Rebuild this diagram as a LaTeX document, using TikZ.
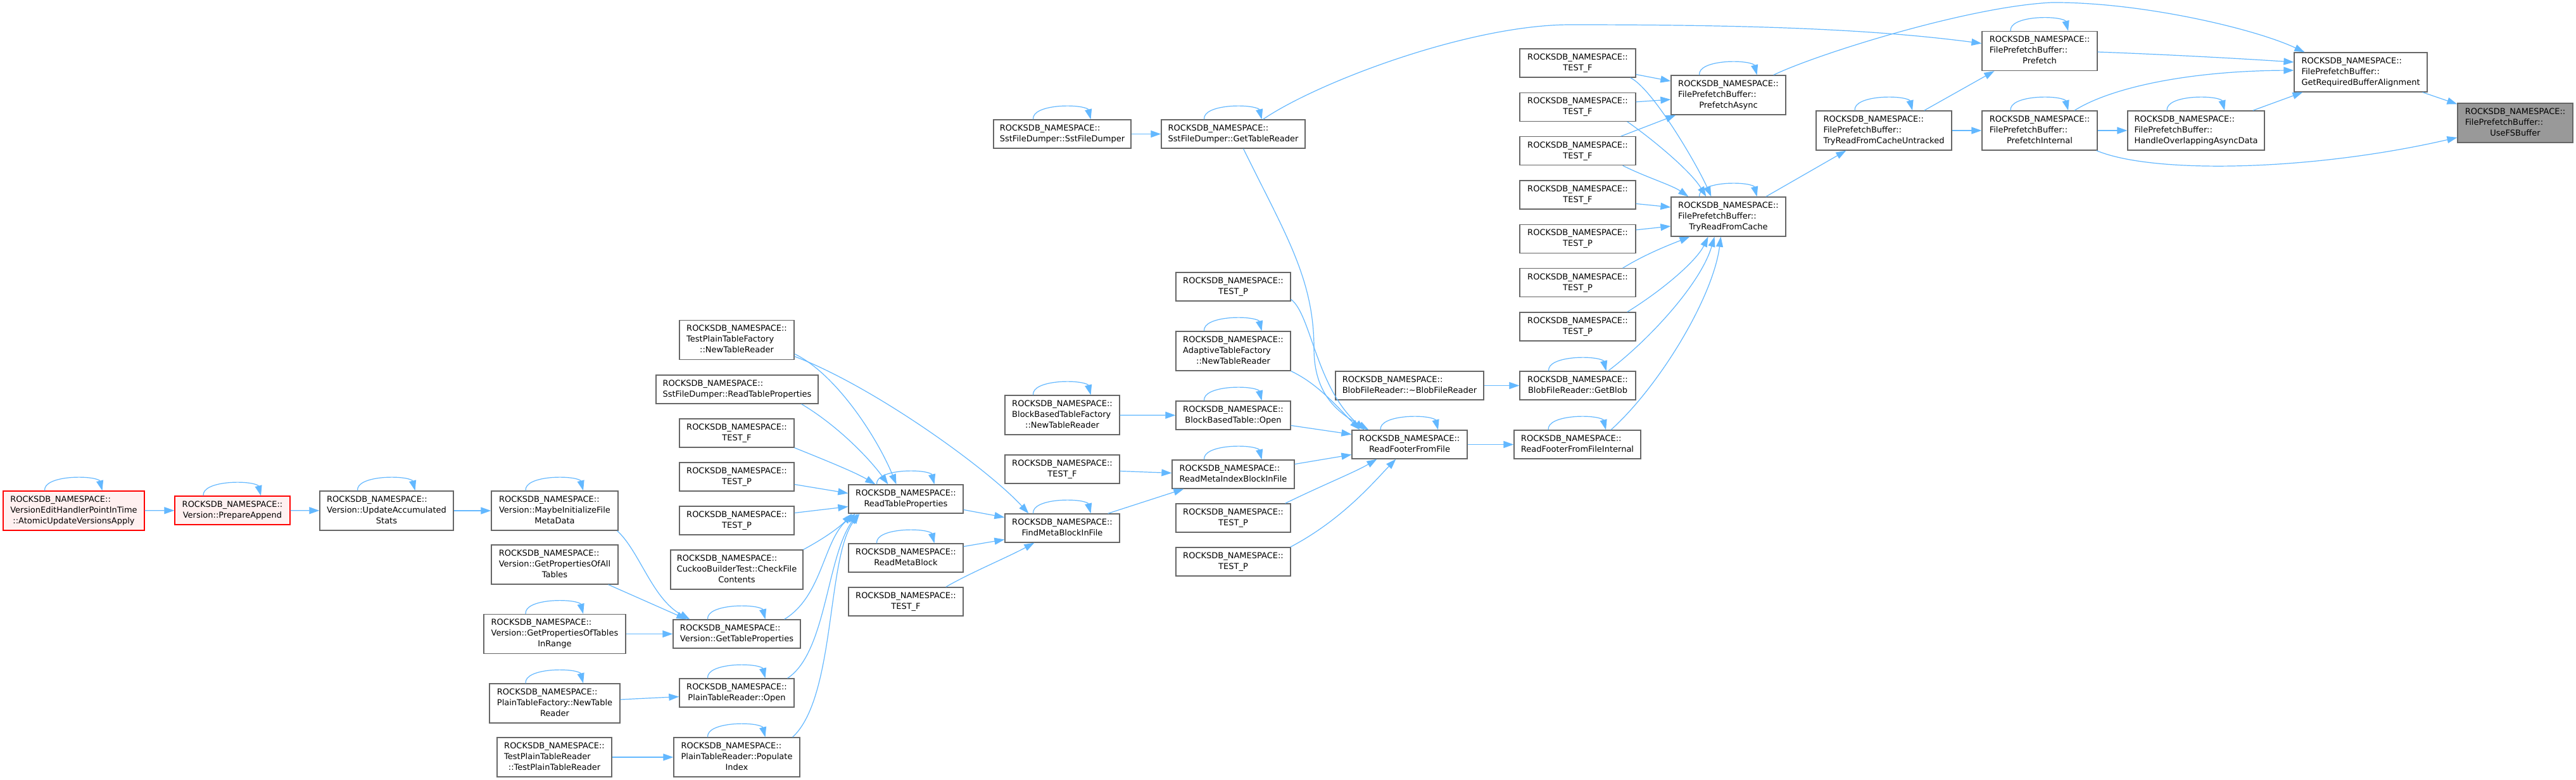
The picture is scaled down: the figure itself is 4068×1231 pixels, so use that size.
\documentclass[tikz,border=0pt]{standalone}
\usepackage{fontspec}
\setmainfont{DejaVu Sans}
\usetikzlibrary{arrows.meta,calc}
\definecolor{edgeblue}{HTML}{63B8FF}
\definecolor{boxgray}{HTML}{666666}
\definecolor{tgtfill}{HTML}{999999}
\definecolor{redfill}{HTML}{FFF0F0}
\newcommand{\dxtwo}[2]{\begin{tabular}{@{}l@{}}#1\\\multicolumn{1}{@{}c@{}}{#2}\end{tabular}}
\newcommand{\dxthree}[3]{\begin{tabular}{@{}l@{}}#1\\#2\\\multicolumn{1}{@{}c@{}}{#3}\end{tabular}}
\newcommand{\dxrn}{ROCKSDB\_NAMESPACE::}
\newcommand{\dxfpb}{FilePrefetchBuffer::}
\newcommand{\dxloop}[1]{%
  \draw[eline] ($(#1.north)+(-46,0)$) .. controls +(-2,-24) and +(-14,-9) .. ($(#1.north)+(41,-16)$);
  \draw[edge] ($(#1.north)+(41,-16)$) -- ($(#1.north)+(45,0)$);}
\tikzset{
  fn/.style={draw=boxgray, line width=1.3pt, fill=white, inner sep=0pt,
    font=\fontsize{13}{17}\selectfont, minimum height=45pt},
  fn3/.style={fn, minimum height=62pt},
  tgt/.style={fill=tgtfill},
  hot/.style={draw=red, fill=redfill},
  eline/.style={draw=edgeblue, line width=1.2pt},
  edge/.style={eline, -{Triangle[length=16pt,width=11pt]}},
}
\begin{document}
\begin{tikzpicture}[x=1pt,y=-1pt]
\fill[white] (0,0) rectangle (4068,1231);
\useasboundingbox (0,0) rectangle (4068,1231);

% ---------- nodes ----------
\node[fn3, hot, minimum width=223pt] (vehpit) at (116.5,806) {\dxthree{\dxrn}{VersionEditHandlerPointInTime}{::AtomicUpdateVersionsApply}};
\node[fn, hot, minimum width=182pt] (prepapp) at (367,805.5) {\dxtwo{\dxrn}{Version::PrepareAppend}};
\node[fn3, minimum width=211pt] (uas) at (610.5,806) {\dxthree{\dxrn}{Version::UpdateAccumulated}{Stats}};
\node[fn3, minimum width=200pt] (maybeinit) at (876,806) {\dxthree{\dxrn}{Version::MaybeInitializeFile}{MetaData}};
\node[fn3, minimum width=200pt] (gpoat) at (876,891) {\dxthree{\dxrn}{Version::GetPropertiesOfAll}{Tables}};
\node[fn3, minimum width=224pt] (gpotir) at (876,1000.5) {\dxthree{\dxrn}{Version::GetPropertiesOfTables}{InRange}};
\node[fn3, minimum width=206pt] (ptfntr) at (876,1110) {\dxthree{\dxrn}{PlainTableFactory::NewTable}{Reader}};
\node[fn3, minimum width=181pt] (tptr) at (875.5,1195) {\dxthree{\dxrn}{TestPlainTableReader}{::TestPlainTableReader}};

\node[fn3, minimum width=181pt] (tptf) at (1163.5,536.5) {\dxthree{\dxrn}{TestPlainTableFactory}{::NewTableReader}};
\node[fn, minimum width=256pt] (sstrtp) at (1164,614.5) {\dxtwo{\dxrn}{SstFileDumper::ReadTableProperties}};
\node[fn, minimum width=181pt] (testfl) at (1163.5,683.5) {\dxtwo{\dxrn}{TEST\_F}};
\node[fn, minimum width=181pt] (testpl1) at (1163.5,752.5) {\dxtwo{\dxrn}{TEST\_P}};
\node[fn, minimum width=181pt] (testpl2) at (1163.5,821.5) {\dxtwo{\dxrn}{TEST\_P}};
\node[fn3, minimum width=209pt] (cuckoo) at (1163.5,899) {\dxthree{\dxrn}{CuckooBuilderTest::CheckFile}{Contents}};
\node[fn, minimum width=201pt] (gtp) at (1163.5,1000.5) {\dxtwo{\dxrn}{Version::GetTableProperties}};
\node[fn, minimum width=181pt] (ptropen) at (1163.5,1093.5) {\dxtwo{\dxrn}{PlainTableReader::Open}};
\node[fn3, minimum width=199pt] (ptrpop) at (1163.5,1195) {\dxthree{\dxrn}{PlainTableReader::Populate}{Index}};

\node[fn, minimum width=181pt] (rtp) at (1430.5,787.5) {\dxtwo{\dxrn}{ReadTableProperties}};
\node[fn, minimum width=181pt] (rmb) at (1430.5,880.5) {\dxtwo{\dxrn}{ReadMetaBlock}};
\node[fn, minimum width=181pt] (testfr) at (1430.5,949.5) {\dxtwo{\dxrn}{TEST\_F}};

\node[fn, minimum width=217pt] (sstdump) at (1677.5,211.5) {\dxtwo{\dxrn}{SstFileDumper::SstFileDumper}};
\node[fn3, minimum width=181pt] (bbtf) at (1677.5,655) {\dxthree{\dxrn}{BlockBasedTableFactory}{::NewTableReader}};
\node[fn, minimum width=181pt] (testfm) at (1677.5,740.5) {\dxtwo{\dxrn}{TEST\_F}};
\node[fn, minimum width=181pt] (fmbif) at (1677.5,833.5) {\dxtwo{\dxrn}{FindMetaBlockInFile}};

\node[fn, minimum width=227pt] (sstgtr) at (1947.5,211.5) {\dxtwo{\dxrn}{SstFileDumper::GetTableReader}};
\node[fn, minimum width=181pt] (testpa) at (1947.5,452.5) {\dxtwo{\dxrn}{TEST\_P}};
\node[fn3, minimum width=181pt] (adaptive) at (1947.5,554) {\dxthree{\dxrn}{AdaptiveTableFactory}{::NewTableReader}};
\node[fn, minimum width=181pt] (bbtopen) at (1947.5,655.5) {\dxtwo{\dxrn}{BlockBasedTable::Open}};
\node[fn, minimum width=193pt] (rmibif) at (1947.5,748.5) {\dxtwo{\dxrn}{ReadMetaIndexBlockInFile}};
\node[fn, minimum width=181pt] (testpb) at (1947.5,817.5) {\dxtwo{\dxrn}{TEST\_P}};
\node[fn, minimum width=181pt] (testpc) at (1947.5,886.5) {\dxtwo{\dxrn}{TEST\_P}};

\node[fn, minimum width=234pt] (blobdtor) at (2226,608.5) {\dxtwo{\dxrn}{BlobFileReader::\textasciitilde BlobFileReader}};
\node[fn, minimum width=182pt] (rfff) at (2226,701.5) {\dxtwo{\dxrn}{ReadFooterFromFile}};

\node[fn, minimum width=183pt] (t0) at (2491.5,99.5) {\dxtwo{\dxrn}{TEST\_F}};
\node[fn, minimum width=183pt] (t1) at (2491.5,168.8) {\dxtwo{\dxrn}{TEST\_F}};
\node[fn, minimum width=183pt] (t2) at (2491.5,238.2) {\dxtwo{\dxrn}{TEST\_F}};
\node[fn, minimum width=183pt] (t3) at (2491.5,307.5) {\dxtwo{\dxrn}{TEST\_F}};
\node[fn, minimum width=183pt] (t4) at (2491.5,376.8) {\dxtwo{\dxrn}{TEST\_P}};
\node[fn, minimum width=183pt] (t5) at (2491.5,446.2) {\dxtwo{\dxrn}{TEST\_P}};
\node[fn, minimum width=183pt] (t6) at (2491.5,515.5) {\dxtwo{\dxrn}{TEST\_P}};
\node[fn, minimum width=183pt] (getblob) at (2491.5,608.5) {\dxtwo{\dxrn}{BlobFileReader::GetBlob}};
\node[fn, minimum width=200pt] (rfffi) at (2491,701.5) {\dxtwo{\dxrn}{ReadFooterFromFileInternal}};

\node[fn3, minimum width=181pt] (pfasync) at (2729.5,150) {\dxthree{\dxrn}{\dxfpb}{PrefetchAsync}};
\node[fn3, minimum width=181pt] (trfc) at (2729.5,342) {\dxthree{\dxrn}{\dxfpb}{TryReadFromCache}};
\node[fn3, minimum width=214pt] (trfcu) at (2975,206) {\dxthree{\dxrn}{\dxfpb}{TryReadFromCacheUntracked}};
\node[fn3, minimum width=182pt] (prefetch) at (3221,80.5) {\dxthree{\dxrn}{\dxfpb}{Prefetch}};
\node[fn3, minimum width=182pt] (pfinternal) at (3221,206) {\dxthree{\dxrn}{\dxfpb}{PrefetchInternal}};
\node[fn3, minimum width=216pt] (hoad) at (3468,206) {\dxthree{\dxrn}{\dxfpb}{HandleOverlappingAsyncData}};
\node[fn3, minimum width=210pt] (grba) at (3728,114) {\dxthree{\dxrn}{\dxfpb}{GetRequiredBufferAlignment}};
\node[fn3, tgt, minimum width=182pt] (usefs) at (3972,194) {\dxthree{\dxrn}{\dxfpb}{UseFSBuffer}};

% ---------- self loops ----------
\foreach \n in {vehpit,prepapp,uas,maybeinit,gpotir,gtp,ptfntr,ptropen,ptrpop,rtp,rmb,fmbif,bbtf,bbtopen,adaptive,rmibif,rfff,sstdump,sstgtr,getblob,rfffi,pfasync,trfc,trfcu,prefetch,pfinternal,hoad}{\dxloop{\n}}

% ---------- edges ----------
\draw[edge] (vehpit) -- (prepapp);
\draw[edge] (prepapp) -- (uas);
\draw[edge] (uas) -- (maybeinit);
\draw[edge] ($(maybeinit.south east)+(-2,0)$) .. controls (1010,870) and (1030,945) .. ($(gtp.north west)+(27,0)$);
\draw[edge] ($(gpoat.south east)+(-16,0)$) -- ($(gtp.north west)+(22,0)$);
\draw[edge] (gpotir) -- (gtp);
\draw[edge] ($(gtp.north east)+(-26,0)$) .. controls (1300,940) and (1300,850) .. ($(rtp.south west)+(12,0)$);
\draw[edge] ($(ptfntr.east)+(0,-6)$) -- ($(ptropen.west)+(0,6)$);
\draw[edge] ($(ptropen.north east)+(-11,0)$) .. controls (1305,1030) and (1305,880) .. ($(rtp.south west)+(15,0)$);
\draw[edge] (tptr) -- (ptrpop);
\draw[edge] ($(ptrpop.north east)+(-12,0)$) .. controls (1320,1100) and (1305,880) .. ($(rtp.south west)+(18,0)$);
\draw[edge] ($(tptf.east)+(0,22)$) .. controls (1320,590) and (1385,690) .. ($(rtp.north)+(-15,0)$);
\draw[edge] ($(tptf.east)+(0,26)$) .. controls (1380,610) and (1560,740) .. ($(fmbif.north west)+(38,0)$);
\draw[edge] ($(sstrtp.south east)+(-27,0)$) .. controls (1320,670) and (1370,720) .. ($(rtp.north)+(-28,0)$);
\draw[edge] (testfl.south east) .. controls (1300,725) and (1350,745) .. ($(rtp.north west)+(43,0)$);
\draw[edge] ($(testpl1.east)+(0,12)$) -- ($(rtp.west)+(0,-9)$);
\draw[edge] ($(testpl2.east)+(0,-12)$) -- ($(rtp.west)+(0,12)$);
\draw[edge] (cuckoo.north east) .. controls (1310,845) and (1330,828) .. ($(rtp.south west)+(6,0)$);
\draw[edge] ($(rtp.east)+(0,17)$) -- ($(fmbif.west)+(0,-17)$);
\draw[edge] ($(rmb.east)+(0,-18)$) -- ($(fmbif.west)+(0,18)$);
\draw[edge] ($(testfr.north east)+(-28,0)$) .. controls (1530,905) and (1590,880) .. ($(fmbif.south west)+(47,0)$);
\draw[edge] ($(fmbif.north east)+(-19,0)$) -- ($(rmibif.south west)+(19,0)$);
\draw[edge] ($(testfm.east)+(0,3)$) -- ($(rmibif.west)+(0,-2)$);
\draw[edge] (bbtf) -- (bbtopen);
\draw[edge] ($(bbtopen.east)+(0,16)$) -- ($(rfff.west)+(0,-16)$);
\draw[edge] ($(rmibif.east)+(0,-16)$) -- ($(rfff.west)+(0,16)$);
\draw[edge] ($(testpb.north east)+(-9,0)$) .. controls (2090,765) and (2140,745) .. ($(rfff.south west)+(40,0)$);
\draw[edge] ($(testpc.north east)+(-1,0)$) .. controls (2120,820) and (2170,760) .. ($(rfff.south west)+(70,0)$);
\draw[edge] (adaptive.south east) .. controls (2080,605) and (2110,640) .. ($(rfff.north west)+(13,0)$);
\draw[edge] ($(testpa.east)+(0,20)$) .. controls (2070,495) and (2078,610) .. ($(rfff.north west)+(20,0)$);
\draw[edge] ($(sstgtr.south)+(16,0)$) .. controls (2030,370) and (2075,440) .. (2075,550) .. controls (2075,620) and (2110,650) .. ($(rfff.north west)+(27,0)$);
\draw[edge] (rfff) -- (rfffi);
\draw[edge] (blobdtor) -- (getblob);
\draw[edge] ($(getblob.north)+(48,0)$) .. controls (2600,540) and (2685,450) .. ($(trfc.south)+(-22,0)$);
\draw[edge] ($(rfffi.north)+(53,0)$) .. controls (2620,610) and (2705,470) .. ($(trfc.south)+(-12,0)$);
\draw[edge] ($(t6.north east)+(-14,0)$) .. controls (2630,455) and (2680,410) .. ($(trfc.south)+(-32,0)$);
\draw[edge] ($(t5.north east)+(-21,0)$) .. controls (2600,400) and (2640,385) .. ($(trfc.south west)+(30,0)$);
\draw[edge] ($(t4.east)+(0,-14)$) -- ($(trfc.west)+(0,15)$);
\draw[edge] ($(t3.east)+(0,14)$) -- ($(trfc.west)+(0,-15)$);
\draw[edge] ($(t2.south east)+(-21,0)$) .. controls (2600,280) and (2640,292) .. ($(trfc.north west)+(28,0)$);
\draw[edge] ($(t1.south east)+(-14,0)$) .. controls (2610,220) and (2670,270) .. ($(trfc.north west)+(56,0)$);
\draw[edge] ($(t0.south east)+(-9,0)$) .. controls (2610,140) and (2680,260) .. ($(trfc.north west)+(64,0)$);
\draw[edge] ($(t0.east)+(0,18)$) -- ($(pfasync.west)+(0,-22)$);
\draw[edge] ($(t1.east)+(0,-8)$) -- ($(pfasync.west)+(0,7)$);
\draw[edge] ($(t2.north east)+(-24,0)$) -- ($(pfasync.south west)+(8,0)$);
\draw[edge] ($(pfasync.north east)+(-20,0)$) .. controls (2870,85) and (3110,10) .. (3240,4) .. controls (3380,3) and (3560,45) .. ($(grba.north west)+(17,0)$);
\draw[edge] ($(trfc.north east)+(-32,0)$) -- ($(trfcu.south west)+(48,0)$);
\draw[edge] ($(trfcu.north east)+(-44,0)$) -- ($(prefetch.south west)+(20,0)$);
\draw[edge] (trfcu) -- (pfinternal);
\draw[edge] ($(sstgtr.north)+(47,0)$) .. controls (2080,130) and (2320,39) .. (2480,39) .. controls (2750,39) and (2950,45) .. ($(prefetch.west)+(0,-12)$);
\draw[edge] (sstdump) -- (sstgtr);
\draw[edge] ($(prefetch.east)+(0,1.5)$) .. controls (3420,86) and (3530,92) .. ($(grba.west)+(0,-16)$);
\draw[edge] ($(pfinternal.north)+(55,0)$) .. controls (3330,140) and (3450,112) .. ($(grba.west)+(0,-3)$);
\draw[edge] (pfinternal) -- (hoad);
\draw[edge] ($(hoad.north east)+(-19,0)$) -- ($(grba.south west)+(14,0)$);
\draw[edge] ($(grba.south east)+(-8,0)$) -- ($(usefs.north west)+(0,2)$);
\draw[edge] ($(pfinternal.south east)+(-2,0)$) .. controls (3400,275) and (3650,270) .. ($(usefs.west)+(0,23)$);
\end{tikzpicture}
\end{document}
